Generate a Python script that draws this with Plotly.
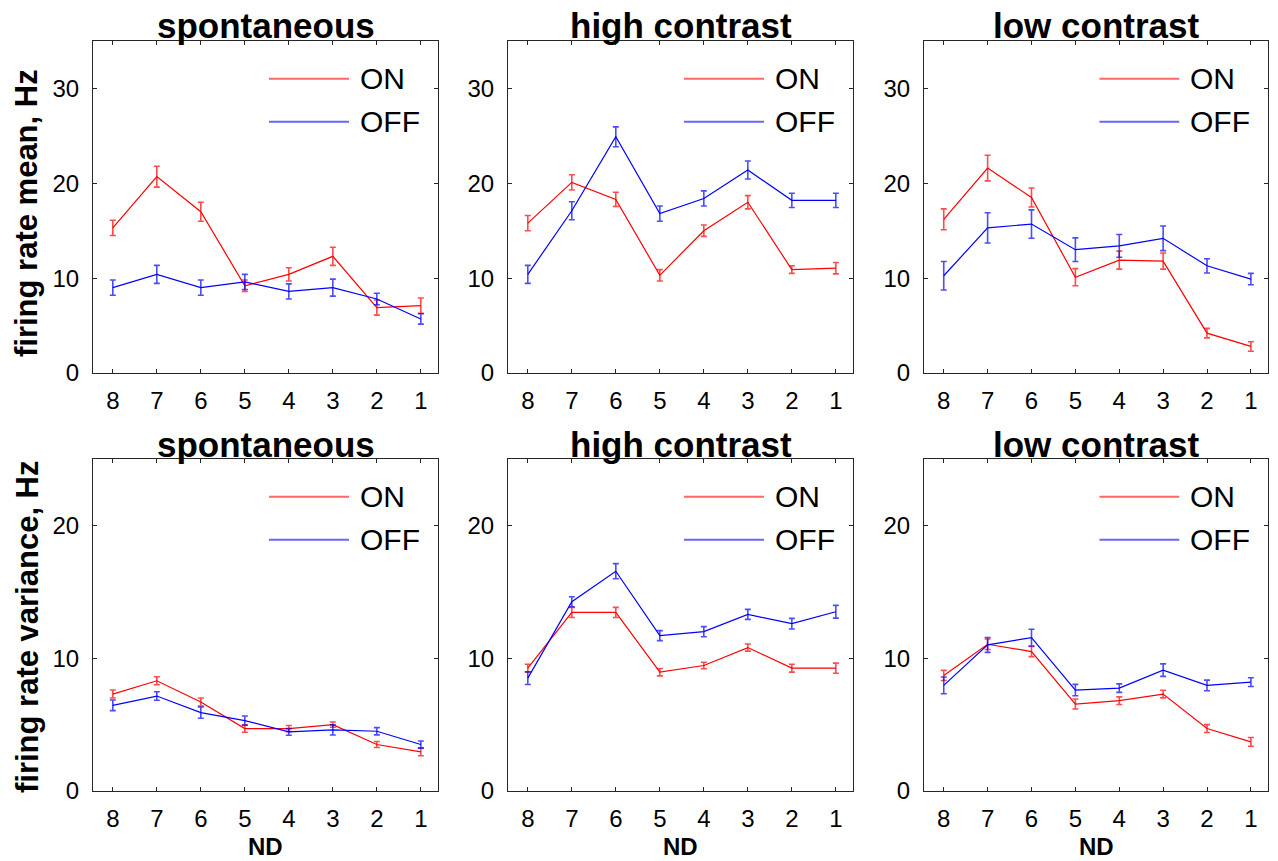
import plotly.graph_objects as go

nd = [8, 7, 6, 5, 4, 3, 2, 1]
panel_titles = ["spontaneous", "high contrast", "low contrast"]
row_ylabels = ["firing rate mean, Hz", "firing rate variance, Hz"]
xlabel = "ND"
series_names = ["ON", "OFF"]

# mean firing rate (top row)
mean_on_spont = [15.3, 20.7, 17.0, 9.2, 10.4, 12.3, 6.9, 7.1]
mean_on_spont_err = [0.8, 1.1, 1.0, 0.6, 0.7, 0.95, 0.8, 0.8]
mean_off_spont = [9.0, 10.4, 9.0, 9.6, 8.6, 9.0, 7.8, 5.7]
mean_off_spont_err = [0.8, 0.95, 0.8, 0.8, 0.8, 0.9, 0.6, 0.55]

mean_on_high = [15.8, 20.1, 18.3, 10.3, 15.0, 18.0, 10.9, 11.05]
mean_on_high_err = [0.8, 0.8, 0.75, 0.6, 0.6, 0.7, 0.4, 0.6]
mean_off_high = [10.4, 17.1, 24.9, 16.8, 18.4, 21.4, 18.2, 18.2]
mean_off_high_err = [0.95, 0.95, 1.05, 0.8, 0.8, 0.95, 0.75, 0.75]

mean_on_low = [16.2, 21.6, 18.5, 10.1, 11.9, 11.8, 4.2, 2.8]
mean_on_low_err = [1.1, 1.35, 1.0, 0.9, 0.95, 0.85, 0.5, 0.5]
mean_off_low = [10.25, 15.3, 15.7, 13.0, 13.4, 14.2, 11.3, 9.9]
mean_off_low_err = [1.5, 1.6, 1.5, 1.25, 1.2, 1.3, 0.75, 0.6]

# firing rate variance (bottom row)
var_on_spont = [7.3, 8.3, 6.7, 4.7, 4.7, 5.0, 3.5, 2.95]
var_on_spont_err = [0.3, 0.3, 0.3, 0.28, 0.23, 0.2, 0.23, 0.3]
var_off_spont = [6.45, 7.15, 5.9, 5.3, 4.45, 4.6, 4.5, 3.5]
var_off_spont_err = [0.4, 0.32, 0.42, 0.35, 0.25, 0.38, 0.27, 0.27]

var_on_high = [9.25, 13.45, 13.45, 8.95, 9.45, 10.8, 9.25, 9.25]
var_on_high_err = [0.3, 0.38, 0.38, 0.28, 0.25, 0.27, 0.3, 0.38]
var_off_high = [8.5, 14.25, 16.55, 11.7, 12.0, 13.3, 12.6, 13.5]
var_off_high_err = [0.48, 0.38, 0.57, 0.38, 0.38, 0.38, 0.4, 0.48]

var_on_low = [8.7, 11.05, 10.5, 6.55, 6.8, 7.3, 4.7, 3.7]
var_on_low_err = [0.38, 0.4, 0.38, 0.38, 0.29, 0.29, 0.3, 0.33]
var_off_low = [7.95, 11.0, 11.55, 7.6, 7.75, 9.1, 7.95, 8.2]
var_off_low_err = [0.63, 0.56, 0.63, 0.43, 0.32, 0.47, 0.4, 0.33]

panels = [
    (0, 0, mean_on_spont, mean_on_spont_err, mean_off_spont, mean_off_spont_err),
    (0, 1, mean_on_high, mean_on_high_err, mean_off_high, mean_off_high_err),
    (0, 2, mean_on_low, mean_on_low_err, mean_off_low, mean_off_low_err),
    (1, 0, var_on_spont, var_on_spont_err, var_off_spont, var_off_spont_err),
    (1, 1, var_on_high, var_on_high_err, var_off_high, var_off_high_err),
    (1, 2, var_on_low, var_on_low_err, var_off_low, var_off_low_err),
]

W, H = 1278, 861
col_px = [(93, 438), (508, 853), (924, 1268)]
row_px = [(41, 373), (459, 791)]
ylabel_center_px = [213, 627]
yranges = [[0, 35], [0, 25]]
yticks = [[0, 10, 20, 30], [0, 10, 20]]

FONT = "Liberation Sans, Arial, Helvetica, sans-serif"
AX = "#262626"
RED = "#ff0000"
BLUE = "#0000ff"

fig = go.Figure()
layout = dict(
    width=W, height=H,
    margin=dict(l=0, r=0, t=0, b=0, autoexpand=False),
    paper_bgcolor="white", plot_bgcolor="white",
    showlegend=False,
    font=dict(family=FONT, color="black"),
)
shapes = []
annotations = []

for i, (r, c, on, on_e, off, off_e) in enumerate(panels):
    idx = i + 1
    xa = "x" if idx == 1 else f"x{idx}"
    ya = "y" if idx == 1 else f"y{idx}"
    xkey = "xaxis" if idx == 1 else f"xaxis{idx}"
    ykey = "yaxis" if idx == 1 else f"yaxis{idx}"
    x0, x1 = col_px[c]
    y0, y1 = row_px[r]
    layout[xkey] = dict(
        domain=[x0 / W, x1 / W], anchor=ya, automargin=False,
        range=[8.45, 0.61], tickvals=nd, ticktext=[str(v) for v in nd],
        ticks="inside", ticklen=4, tickcolor=AX, mirror="ticks",
        showline=True, linecolor=AX, linewidth=1,
        showgrid=False, zeroline=False,
        tickfont=dict(size=24, family=FONT, color="black"),
        ticklabelstandoff=6,
    )
    layout[ykey] = dict(
        domain=[1 - y1 / H, 1 - y0 / H], anchor=xa, automargin=False,
        range=yranges[r], tickvals=yticks[r],
        ticks="inside", ticklen=4, tickcolor=AX, mirror="ticks",
        showline=True, linecolor=AX, linewidth=1,
        showgrid=False, zeroline=False,
        tickfont=dict(size=24, family=FONT, color="black"),
        ticklabelstandoff=8,
    )
    fig.add_trace(go.Scatter(
        x=nd, y=on, mode="lines", name=series_names[0],
        line=dict(color=RED, width=1.2),
        error_y=dict(type="data", array=on_e, color="rgba(255,0,0,0.7)", thickness=1.6, width=3),
        xaxis=xa, yaxis=ya,
    ))
    fig.add_trace(go.Scatter(
        x=nd, y=off, mode="lines", name=series_names[1],
        line=dict(color=BLUE, width=1.2),
        error_y=dict(type="data", array=off_e, color="rgba(0,0,255,0.7)", thickness=1.6, width=3),
        xaxis=xa, yaxis=ya,
    ))
    # manual legend (line sample + label)
    for name, col, ly in [(series_names[0], "rgba(255,0,0,0.6)", 0.886), (series_names[1], "rgba(0,0,255,0.6)", 0.757)]:
        shapes.append(dict(type="line", xref=f"{xa} domain", yref=f"{ya} domain",
                           x0=0.51, x1=0.742, y0=ly, y1=ly, line=dict(color=col, width=2)))
        annotations.append(dict(text=name, xref=f"{xa} domain", yref=f"{ya} domain",
                                x=0.768, y=ly, xanchor="left", yanchor="middle", showarrow=False,
                                font=dict(size=30, family=FONT, color="black")))
    # panel title
    annotations.append(dict(text=f"<b>{panel_titles[c]}</b>", xref="paper", yref="paper",
                            x=(x0 + x1) / 2 / W, y=1 - (y0 - 15) / H, xanchor="center", yanchor="middle",
                            showarrow=False, font=dict(size=35, family=FONT, color="black")))
    if r == 1:
        annotations.append(dict(text=f"<b>{xlabel}</b>", xref="paper", yref="paper",
                                x=(x0 + x1) / 2 / W, y=1 - 846 / H, xanchor="center", yanchor="middle",
                                showarrow=False, font=dict(size=24, family=FONT, color="black")))
    if c == 0:
        annotations.append(dict(text=f"<b>{row_ylabels[r]}</b>", xref="paper", yref="paper",
                                x=27 / W, y=1 - ylabel_center_px[r] / H, xanchor="center", yanchor="middle",
                                textangle=-90, showarrow=False,
                                font=dict(size=31, family=FONT, color="black")))

layout["shapes"] = shapes
layout["annotations"] = annotations
fig.update_layout(**layout)
fig.write_html("out.html")
